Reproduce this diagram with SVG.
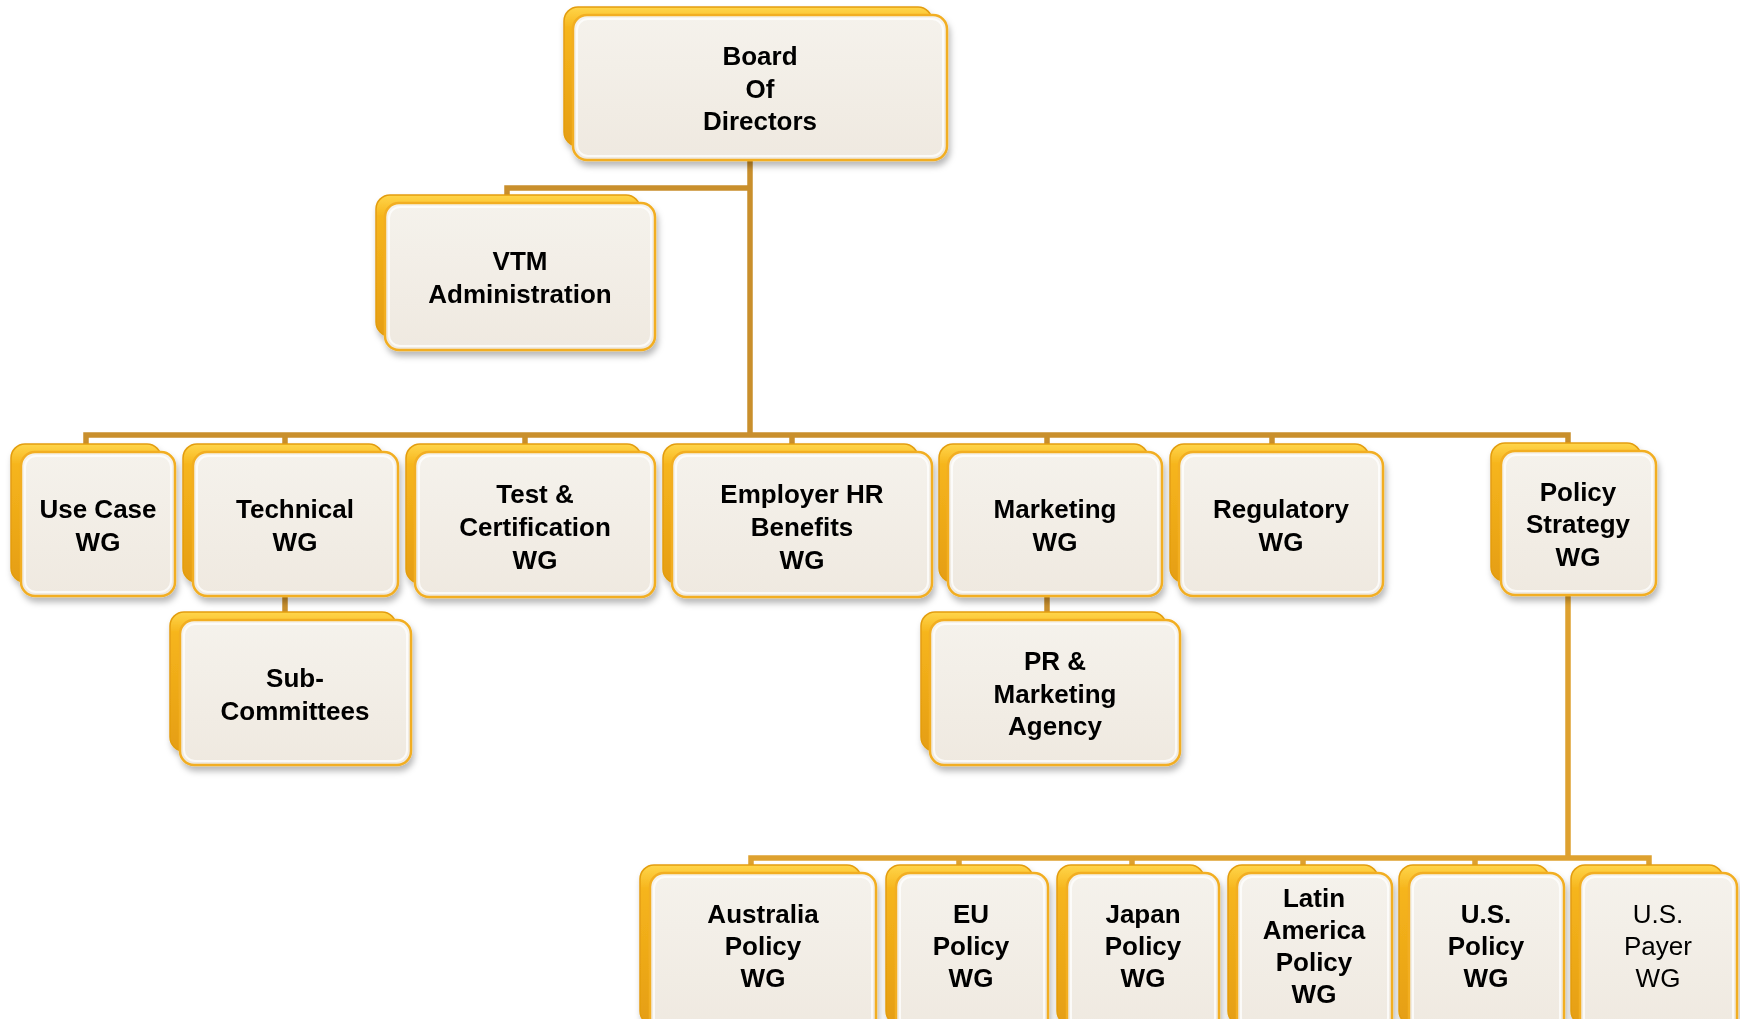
<svg xmlns="http://www.w3.org/2000/svg" width="1740" height="1019" viewBox="0 0 1740 1019">
<defs>
  <linearGradient id="gold" x1="0" y1="0" x2="0" y2="1">
    <stop offset="0" stop-color="#ffd54a"/>
    <stop offset="0.15" stop-color="#f6b51c"/>
    <stop offset="1" stop-color="#e59e14"/>
  </linearGradient>
  <linearGradient id="cream" x1="0" y1="0" x2="0" y2="1">
    <stop offset="0" stop-color="#f5f2ec"/>
    <stop offset="1" stop-color="#efe9e0"/>
  </linearGradient>
  <filter id="sh" x="-10%" y="-10%" width="125%" height="130%">
    <feDropShadow dx="2" dy="5" stdDeviation="3" flood-color="#000" flood-opacity="0.28"/>
  </filter>
  <style>
    .back{fill:url(#gold);stroke:#e39d10;stroke-width:1.5}
    .front{fill:url(#cream);stroke:#f2ae22;stroke-width:2.5}
    .hl{fill:none;stroke:#ffffff;stroke-opacity:0.75;stroke-width:2}
    .t{font-family:"Liberation Sans",Arial,sans-serif;font-weight:700;font-size:26px;fill:#000;text-anchor:middle}
    .r{font-weight:400}
    .c1{fill:none;stroke:#c98f2c;stroke-width:5.5;stroke-linejoin:miter}
    .c2{fill:none;stroke:#dea12f;stroke-width:5.5;stroke-linejoin:miter}
  </style>
</defs>
<rect width="1740" height="1019" fill="#ffffff"/>

<g id="connectors">
  <path class="c1" d="M750,160 V435"/>
  <path class="c1" d="M750,188 H507 V196"/>
  <path class="c1" d="M86,444 V435 H1568 V444"/>
  <path class="c1" d="M285,435 V445"/>
  <path class="c1" d="M525,435 V445"/>
  <path class="c1" d="M792,435 V445"/>
  <path class="c1" d="M1047,435 V445"/>
  <path class="c1" d="M1272,435 V445"/>
  <path class="c1" d="M285,596 V613"/>
  <path class="c1" d="M1047,596 V613"/>
  <path class="c2" d="M1568,595 V858"/>
  <path class="c2" d="M751,866 V858 H1649 V866"/>
  <path class="c2" d="M959,858 V866"/>
  <path class="c2" d="M1132,858 V866"/>
  <path class="c2" d="M1303,858 V866"/>
  <path class="c2" d="M1475,858 V866"/>
</g>

<g id="board" filter="url(#sh)">
  <rect class="back" x="564" y="7" width="368" height="139" rx="14"/>
  <rect class="front" x="573" y="15" width="374" height="145" rx="14"/>
  <rect class="hl" x="577" y="19" width="366" height="137" rx="11"/>
  <text class="t" x="760" y="65">Board</text>
  <text class="t" x="760" y="98">Of</text>
  <text class="t" x="760" y="130">Directors</text>
</g>

<g id="vtm" filter="url(#sh)">
  <rect class="back" x="376" y="195" width="264" height="141" rx="14"/>
  <rect class="front" x="385" y="203" width="270" height="147" rx="14"/>
  <rect class="hl" x="389" y="207" width="262" height="139" rx="11"/>
  <text class="t" x="520" y="270">VTM</text>
  <text class="t" x="520" y="303">Administration</text>
</g>

<g id="usecase" filter="url(#sh)">
  <rect class="back" x="11" y="444" width="150" height="138" rx="14"/>
  <rect class="front" x="21" y="452" width="154" height="144" rx="14"/>
  <rect class="hl" x="25" y="456" width="146" height="136" rx="11"/>
  <text class="t" x="98" y="518">Use Case</text>
  <text class="t" x="98" y="551">WG</text>
</g>

<g id="technical" filter="url(#sh)">
  <rect class="back" x="183" y="444" width="200" height="138" rx="14"/>
  <rect class="front" x="193" y="452" width="205" height="144" rx="14"/>
  <rect class="hl" x="197" y="456" width="197" height="136" rx="11"/>
  <text class="t" x="295" y="518">Technical</text>
  <text class="t" x="295" y="551">WG</text>
</g>

<g id="subcommittees" filter="url(#sh)">
  <rect class="back" x="170" y="612" width="226" height="139" rx="14"/>
  <rect class="front" x="180" y="620" width="231" height="145" rx="14"/>
  <rect class="hl" x="184" y="624" width="223" height="137" rx="11"/>
  <text class="t" x="295" y="687">Sub-</text>
  <text class="t" x="295" y="720">Committees</text>
</g>

<g id="testcert" filter="url(#sh)">
  <rect class="back" x="406" y="444" width="235" height="139" rx="14"/>
  <rect class="front" x="415" y="452" width="240" height="145" rx="14"/>
  <rect class="hl" x="419" y="456" width="232" height="137" rx="11"/>
  <text class="t" x="535" y="503">Test &amp;</text>
  <text class="t" x="535" y="536">Certification</text>
  <text class="t" x="535" y="569">WG</text>
</g>

<g id="employer" filter="url(#sh)">
  <rect class="back" x="663" y="444" width="255" height="139" rx="14"/>
  <rect class="front" x="672" y="452" width="260" height="145" rx="14"/>
  <rect class="hl" x="676" y="456" width="252" height="137" rx="11"/>
  <text class="t" x="802" y="503">Employer HR</text>
  <text class="t" x="802" y="536">Benefits</text>
  <text class="t" x="802" y="569">WG</text>
</g>

<g id="marketing" filter="url(#sh)">
  <rect class="back" x="939" y="444" width="209" height="138" rx="14"/>
  <rect class="front" x="948" y="452" width="214" height="144" rx="14"/>
  <rect class="hl" x="952" y="456" width="206" height="136" rx="11"/>
  <text class="t" x="1055" y="518">Marketing</text>
  <text class="t" x="1055" y="551">WG</text>
</g>

<g id="regulatory" filter="url(#sh)">
  <rect class="back" x="1170" y="444" width="199" height="138" rx="14"/>
  <rect class="front" x="1179" y="452" width="204" height="144" rx="14"/>
  <rect class="hl" x="1183" y="456" width="196" height="136" rx="11"/>
  <text class="t" x="1281" y="518">Regulatory</text>
  <text class="t" x="1281" y="551">WG</text>
</g>

<g id="pragency" filter="url(#sh)">
  <rect class="back" x="921" y="612" width="245" height="139" rx="14"/>
  <rect class="front" x="930" y="620" width="250" height="145" rx="14"/>
  <rect class="hl" x="934" y="624" width="242" height="137" rx="11"/>
  <text class="t" x="1055" y="670">PR &amp;</text>
  <text class="t" x="1055" y="703">Marketing</text>
  <text class="t" x="1055" y="735">Agency</text>
</g>

<g id="policystrategy" filter="url(#sh)">
  <rect class="back" x="1491" y="443" width="150" height="138" rx="14"/>
  <rect class="front" x="1501" y="451" width="155" height="144" rx="14"/>
  <rect class="hl" x="1505" y="455" width="147" height="136" rx="11"/>
  <text class="t" x="1578" y="501">Policy</text>
  <text class="t" x="1578" y="533">Strategy</text>
  <text class="t" x="1578" y="566">WG</text>
</g>

<g id="australia" filter="url(#sh)">
  <rect class="back" x="640" y="865" width="221" height="160" rx="14"/>
  <rect class="front" x="650" y="873" width="226" height="160" rx="14"/>
  <rect class="hl" x="654" y="877" width="218" height="152" rx="11"/>
  <text class="t" x="763" y="923">Australia</text>
  <text class="t" x="763" y="955">Policy</text>
  <text class="t" x="763" y="987">WG</text>
</g>

<g id="eu" filter="url(#sh)">
  <rect class="back" x="886" y="865" width="147" height="160" rx="14"/>
  <rect class="front" x="896" y="873" width="152" height="160" rx="14"/>
  <rect class="hl" x="900" y="877" width="144" height="152" rx="11"/>
  <text class="t" x="971" y="923">EU</text>
  <text class="t" x="971" y="955">Policy</text>
  <text class="t" x="971" y="987">WG</text>
</g>

<g id="japan" filter="url(#sh)">
  <rect class="back" x="1057" y="865" width="147" height="160" rx="14"/>
  <rect class="front" x="1067" y="873" width="152" height="160" rx="14"/>
  <rect class="hl" x="1071" y="877" width="144" height="152" rx="11"/>
  <text class="t" x="1143" y="923">Japan</text>
  <text class="t" x="1143" y="955">Policy</text>
  <text class="t" x="1143" y="987">WG</text>
</g>

<g id="latam" filter="url(#sh)">
  <rect class="back" x="1228" y="865" width="150" height="160" rx="14"/>
  <rect class="front" x="1237" y="873" width="155" height="160" rx="14"/>
  <rect class="hl" x="1241" y="877" width="147" height="152" rx="11"/>
  <text class="t" x="1314" y="907">Latin</text>
  <text class="t" x="1314" y="939">America</text>
  <text class="t" x="1314" y="971">Policy</text>
  <text class="t" x="1314" y="1003">WG</text>
</g>

<g id="uspolicy" filter="url(#sh)">
  <rect class="back" x="1399" y="865" width="150" height="160" rx="14"/>
  <rect class="front" x="1409" y="873" width="155" height="160" rx="14"/>
  <rect class="hl" x="1413" y="877" width="147" height="152" rx="11"/>
  <text class="t" x="1486" y="923">U.S.</text>
  <text class="t" x="1486" y="955">Policy</text>
  <text class="t" x="1486" y="987">WG</text>
</g>

<g id="uspayer" filter="url(#sh)">
  <rect class="back" x="1571" y="865" width="152" height="160" rx="14"/>
  <rect class="front" x="1580" y="873" width="157" height="160" rx="14"/>
  <rect class="hl" x="1584" y="877" width="149" height="152" rx="11"/>
  <text class="t r" x="1658" y="923">U.S.</text>
  <text class="t r" x="1658" y="955">Payer</text>
  <text class="t r" x="1658" y="987">WG</text>
</g>
</svg>
